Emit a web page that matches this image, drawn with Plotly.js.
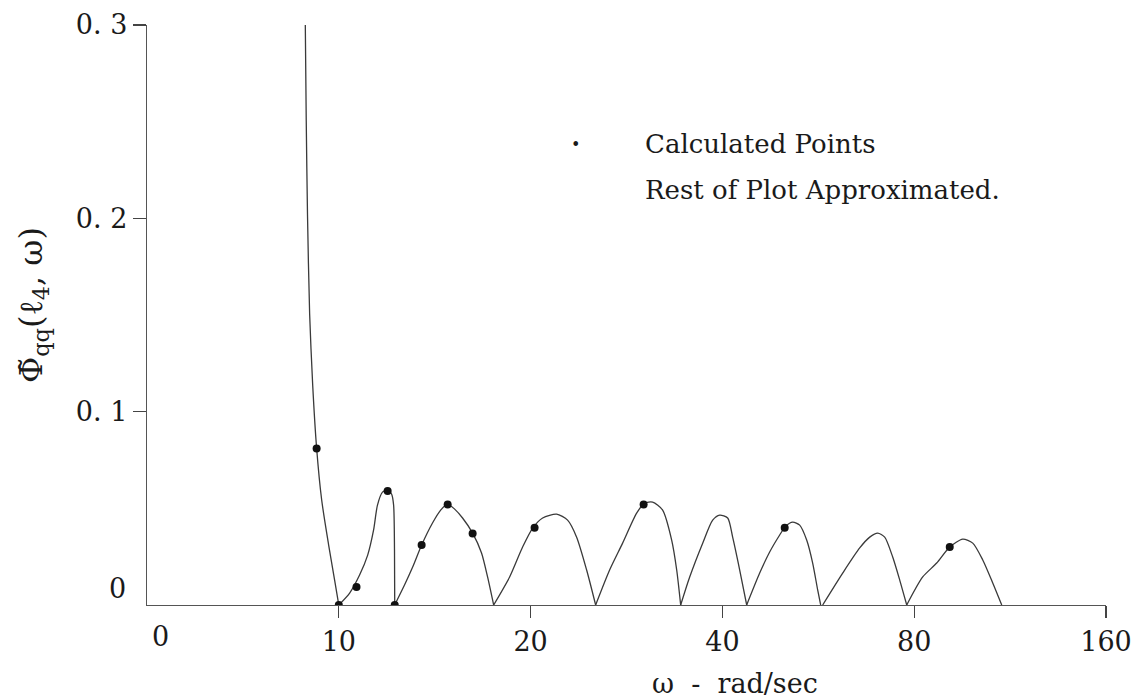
<!DOCTYPE html>
<html>
<head>
<meta charset="utf-8">
<script src="https://cdn.plot.ly/plotly-3.0.1.min.js"></script>
<style>html,body{margin:0;padding:0;background:#fff;}#chart{width:1144px;height:698px;}</style>
</head>
<body>
<div id="chart"></div>
<script>
// x-axis tick positions (omega, rad/sec) and their labels
const xTickVals = [10, 20, 40, 80, 160];
const xTickText = ['10', '20', '40', '80', '160'];
const yTickVals = [0.1, 0.2, 0.3];
const yTickText = ['0. 1', '0. 2', '0. 3'];

// Approximated curve, one branch per arch (omega, Phi_qq)
const spikeW = [8.86, 8.89, 8.93, 9.00, 9.10, 9.23, 9.40, 9.64, 9.85, 10.0];
const spikeP = [0.300, 0.2506, 0.2021, 0.1504, 0.1137, 0.0811, 0.0543, 0.0310, 0.0129, 0.0];

const archAW = [10.0, 10.40, 10.78, 11.10, 11.34, 11.50, 11.71, 11.93, 12.10, 12.19, 12.23, 12.24];
const archAP = [0.0, 0.0062, 0.0155, 0.0258, 0.0388, 0.0517, 0.0584, 0.0594, 0.0574, 0.0517, 0.0284, 0.0];

const archBW = [12.24, 12.68, 13.06, 13.49, 14.03, 14.45, 14.82, 15.20, 15.64, 16.22, 16.75, 17.12, 17.50];
const archBP = [0.0, 0.0103, 0.0196, 0.0310, 0.0424, 0.0491, 0.0522, 0.0496, 0.0450, 0.0372, 0.0269, 0.0145, 0.0];

const archCW = [17.50, 18.54, 19.43, 20.15, 20.89, 21.97, 22.86, 23.62, 24.49, 25.30];
const archCP = [0.0, 0.0145, 0.0300, 0.0398, 0.0450, 0.0470, 0.0439, 0.0351, 0.0181, 0.0];

const archDW = [25.30, 26.61, 27.89, 29.34, 30.20, 31.09, 32.23, 33.30, 33.91, 34.40];
const archDP = [0.0, 0.0181, 0.0320, 0.0475, 0.0527, 0.0532, 0.0491, 0.0336, 0.0181, 0.0];

const archEW = [34.40, 35.54, 37.25, 38.62, 39.61, 40.77, 41.51, 42.58, 43.67];
const archEP = [0.0, 0.0145, 0.0320, 0.0439, 0.0465, 0.0450, 0.0351, 0.0181, 0.0];

const archFW = [43.67, 45.77, 47.45, 49.20, 50.28, 51.57, 52.89, 54.24, 55.43, 56.44, 57.06];
const archFP = [0.0, 0.0165, 0.0274, 0.0362, 0.0408, 0.0429, 0.0413, 0.0336, 0.0217, 0.0078, 0.0];

const archGW = [57.47, 61.78, 65.70, 68.12, 70.12, 71.91, 74.02, 75.92, 77.87];
const archGP = [0.0, 0.0165, 0.0295, 0.0351, 0.0372, 0.0351, 0.0248, 0.0129, 0.0];

const archHW = [77.87, 82.50, 86.78, 90.96, 95.34, 98.85, 102.49, 106.26, 109.77];
const archHP = [0.0, 0.0145, 0.0217, 0.0300, 0.0341, 0.0320, 0.0233, 0.0114, 0.0];

// Calculated points
const calcW = [9.23, 10.0, 10.66, 11.93, 12.24, 13.49, 14.82, 16.22, 20.29, 30.09, 50.10, 90.96];
const calcP = [0.081, 0.0, 0.0093, 0.059, 0.0, 0.031, 0.052, 0.037, 0.040, 0.052, 0.040, 0.030];

const branches = [
  [spikeW, spikeP], [archAW, archAP], [archBW, archBP], [archCW, archCP],
  [archDW, archDP], [archEW, archEP], [archFW, archFP], [archGW, archGP], [archHW, archHP]
];

const lineStyle = {color: '#3a3a3a', width: 1.3};
const traces = branches.map(b => ({
  x: b[0], y: b[1], type: 'scatter', mode: 'lines',
  line: Object.assign({shape: 'spline', smoothing: 0.7}, lineStyle),
  hoverinfo: 'skip', showlegend: false
}));
traces.push({
  x: calcW, y: calcP, type: 'scatter', mode: 'markers',
  marker: {color: '#111', size: 8}, showlegend: false
});

const L = 147, R = 38, T = 25, B = 93, W = 1144, H = 698;
const pw = W - L - R, ph = H - T - B;
const px = p => (p - L) / pw;
const py = p => (H - B - p) / ph;
const serif = 'DejaVu Serif';
const txt = '#1a1a1a';
const nb = '\u00a0';

const layout = {
  width: W, height: H,
  margin: {l: L, r: R, t: T, b: B, pad: 0},
  paper_bgcolor: '#fff', plot_bgcolor: '#fff',
  font: {family: serif, color: txt},
  showlegend: false,
  xaxis: {
    type: 'log', range: [Math.log10(5), Math.log10(160)],
    tickvals: xTickVals, ticktext: xTickText,
    ticks: 'outside', ticklen: 12, tickwidth: 1.2, tickcolor: '#444',
    showline: true, linecolor: '#555', linewidth: 1.2,
    showgrid: false, zeroline: false,
    tickfont: {family: serif, size: 27, color: txt}
  },
  yaxis: {
    range: [0, 0.3],
    tickvals: yTickVals, ticktext: yTickText,
    ticks: 'outside', ticklen: 13, tickwidth: 1.2, tickcolor: '#444',
    showline: true, linecolor: '#555', linewidth: 1.2,
    showgrid: false, zeroline: false,
    tickfont: {family: serif, size: 27, color: txt}
  },
  annotations: [
    {xref: 'paper', yref: 'paper', x: px(117), y: py(588), text: '0', showarrow: false,
     xanchor: 'center', yanchor: 'middle', font: {family: serif, size: 27, color: txt}},
    {xref: 'paper', yref: 'paper', x: px(160), y: py(636), text: '0', showarrow: false,
     xanchor: 'center', yanchor: 'middle', font: {family: serif, size: 27, color: txt}},
    {xref: 'paper', yref: 'paper', x: px(33), y: py(305), textangle: -90,
     text: 'Φ\u0303<sub>qq</sub>(ℓ<sub>4</sub>, ω)', showarrow: false,
     xanchor: 'center', yanchor: 'middle', font: {family: serif, size: 32, color: txt}},
    {xref: 'paper', yref: 'paper', x: px(735), y: py(683), text: 'ω' + nb + nb + '-' + nb + nb + 'rad/sec', showarrow: false,
     xanchor: 'center', yanchor: 'middle', font: {family: serif, size: 27, color: txt}},
    {xref: 'paper', yref: 'paper', x: px(575), y: py(144), text: '•', showarrow: false,
     xanchor: 'center', yanchor: 'middle', font: {family: serif, size: 16, color: txt}},
    {xref: 'paper', yref: 'paper', x: px(643), y: py(144), text: 'Calculated Points', showarrow: false,
     xanchor: 'left', yanchor: 'middle', font: {family: serif, size: 26, color: txt}},
    {xref: 'paper', yref: 'paper', x: px(643), y: py(190), text: 'Rest of Plot Approximated.', showarrow: false,
     xanchor: 'left', yanchor: 'middle', font: {family: serif, size: 26, color: txt}}
  ]
};

Plotly.newPlot('chart', traces, layout, {staticPlot: true, displayModeBar: false});
</script>
</body>
</html>
